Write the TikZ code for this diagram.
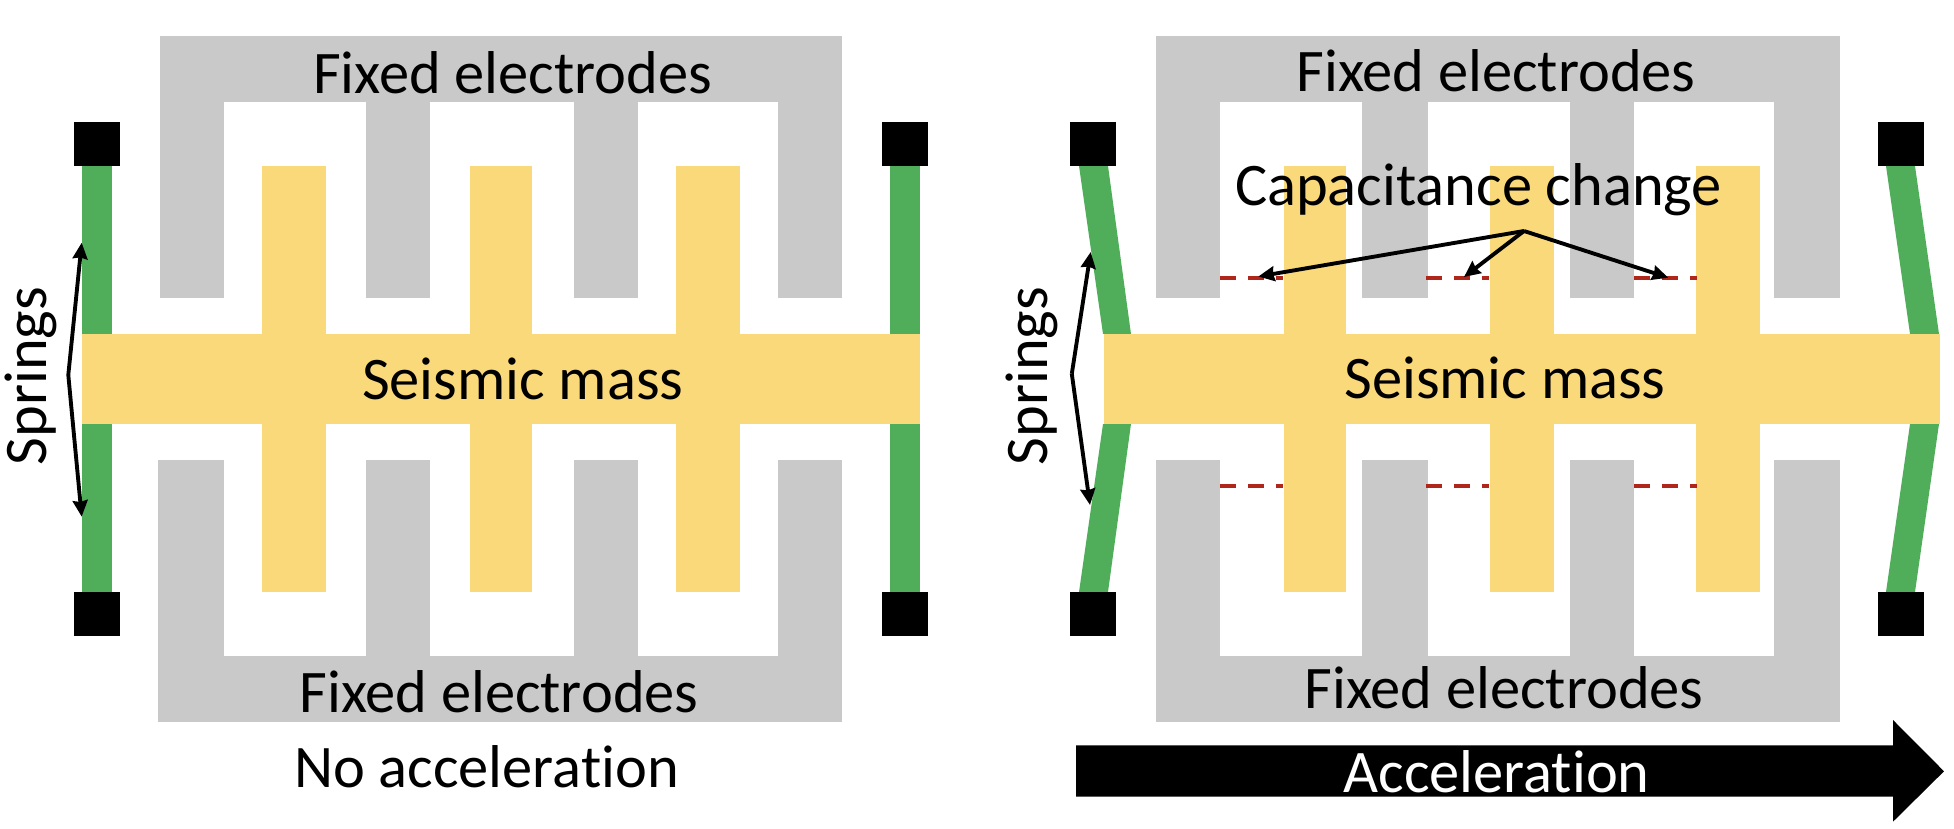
\documentclass[tikz,border=0pt]{standalone}
\usepackage{fontspec}
\setmainfont{Carlito}[Ligatures=NoCommon]
\usetikzlibrary{arrows.meta}

\definecolor{electrodegray}{HTML}{C9C9C9}
\definecolor{massyellow}{HTML}{FAD97A}
\definecolor{springgreen}{HTML}{50AE5B}
\definecolor{gapred}{HTML}{B0261A}

\tikzset{
    label/.style={font=\fontsize{17.2}{20}\selectfont, inner sep=0pt},
    pointer/.style={draw=black, line width=1.1pt, -{Stealth[length=4.6pt, width=4.2pt, inset=0.4pt]}},
    gapline/.style={draw=gapred, line width=1.14pt, dash pattern=on 4.55pt off 3.41pt}
}

\begin{document}
\begin{tikzpicture}
\useasboundingbox (0, 0) rectangle (19.54, 8.28);

% no acceleration: fixed electrodes
\fill[electrodegray] (1.60, 7.26) rectangle (8.42, 7.92);
\fill[electrodegray] (1.58, 1.06) rectangle (8.42, 1.72);
\foreach \a/\b in {1.60/2.24, 3.66/4.30, 5.74/6.38, 7.78/8.42} {
    \fill[electrodegray] (\a, 5.30) rectangle (\b, 7.3);
}
\foreach \a/\b in {1.58/2.24, 3.66/4.30, 5.74/6.38, 7.78/8.42} {
    \fill[electrodegray] (\a, 1.7) rectangle (\b, 3.68);
}

% no acceleration: seismic mass
\fill[massyellow] (0.82, 4.04) rectangle (9.20, 4.94);
\foreach \a/\b in {2.62/3.26, 4.70/5.32, 6.76/7.40} {
    \fill[massyellow] (\a, 2.36) rectangle (\b, 6.62);
}

% no acceleration: springs and anchors
\fill[springgreen] (0.82, 4.94) rectangle (1.12, 6.62);
\fill[springgreen] (0.82, 2.36) rectangle (1.12, 4.04);
\fill[springgreen] (8.90, 4.94) rectangle (9.20, 6.62);
\fill[springgreen] (8.90, 2.36) rectangle (9.20, 4.04);
\foreach \a in {0.74, 8.82} {
    \fill[black] (\a, 6.62) rectangle ++(0.46, 0.44);
    \fill[black] (\a, 1.92) rectangle ++(0.46, 0.44);
}

\node[label] (fixedtopa) at (5.127, 7.55) {Fixed electrodes};
\node[label] (fixedbota) at (4.99, 1.36) {Fixed electrodes};
\node[label] (massa) at (5.227, 4.49) {Seismic mass};
\node[label] (noacc) at (4.865, 0.61) {No acceleration};
\node[label, rotate=90] (springsa) at (0.31, 4.52) {Springs};

\coordinate (forka) at (0.683, 4.53);
\coordinate (springupa) at (0.817, 5.853);
\coordinate (springdowna) at (0.817, 3.113);
\draw[pointer] (forka) -- (springupa);
\draw[pointer] (forka) -- (springdowna);

% acceleration: fixed electrodes
\fill[electrodegray] (11.56, 7.26) rectangle (18.40, 7.92);
\fill[electrodegray] (11.56, 1.06) rectangle (18.40, 1.72);
\foreach \a/\b in {11.56/12.20, 13.62/14.28, 15.70/16.34, 17.74/18.40} {
    \fill[electrodegray] (\a, 5.30) rectangle (\b, 7.3);
    \fill[electrodegray] (\a, 1.7) rectangle (\b, 3.68);
}

% acceleration: seismic mass
\fill[massyellow] (11.04, 4.04) rectangle (19.40, 4.94);
\foreach \a/\b in {12.84/13.46, 14.90/15.54, 16.96/17.60} {
    \fill[massyellow] (\a, 2.36) rectangle (\b, 6.62);
}

% acceleration: springs and anchors
\fill[springgreen] (10.79, 6.62) -- (11.08, 6.62) -- (11.31, 4.94) -- (11.03, 4.94) -- cycle;
\fill[springgreen] (10.79, 2.36) -- (11.08, 2.36) -- (11.31, 4.04) -- (11.03, 4.04) -- cycle;
\fill[springgreen] (18.86, 6.62) -- (19.15, 6.62) -- (19.39, 4.94) -- (19.10, 4.94) -- cycle;
\fill[springgreen] (18.86, 2.36) -- (19.15, 2.36) -- (19.39, 4.04) -- (19.10, 4.04) -- cycle;
\foreach \a in {10.70, 18.78} {
    \fill[black] (\a, 6.62) rectangle ++(0.46, 0.44);
    \fill[black] (\a, 1.92) rectangle ++(0.46, 0.44);
}

% acceleration: gaps
\foreach \a/\b in {12.20/12.83, 14.26/14.89, 16.34/16.97} {
    \draw[gapline] (\a, 5.503) -- (\b, 5.503);
    \draw[gapline] (\a, 3.42) -- (\b, 3.42);
}

\node[label] (fixedtopb) at (14.96, 7.57) {Fixed electrodes};
\node[label] (fixedbotb) at (15.04, 1.40) {Fixed electrodes};
\node[label] (massb) at (15.05, 4.50) {Seismic mass};
\node[label] (capchange) at (14.785, 6.38) {Capacitance change};
\node[label, rotate=90] (springsb) at (10.32, 4.52) {Springs};

\coordinate (forkb) at (10.718, 4.542);
\coordinate (springupb) at (10.907, 5.76);
\coordinate (springdownb) at (10.90, 3.23);
\draw[pointer] (forkb) -- (springupb);
\draw[pointer] (forkb) -- (springdownb);

\coordinate (forkc) at (15.24, 5.97);
\coordinate (gapa) at (12.583, 5.515);
\coordinate (gapb) at (14.64, 5.51);
\coordinate (gapc) at (16.683, 5.503);
\draw[pointer] (forkc) -- (gapa);
\draw[pointer] (forkc) -- (gapb);
\draw[pointer] (forkc) -- (gapc);

% acceleration arrow
\fill[black] (10.76, 0.313) -- (18.93, 0.313) -- (18.93, 0.063) -- (19.44, 0.567) -- (18.93, 1.08) -- (18.93, 0.827) -- (10.76, 0.827) -- cycle;
\node[label, text=white] (acc) at (14.965, 0.56) {Acceleration};

\end{tikzpicture}
\end{document}
